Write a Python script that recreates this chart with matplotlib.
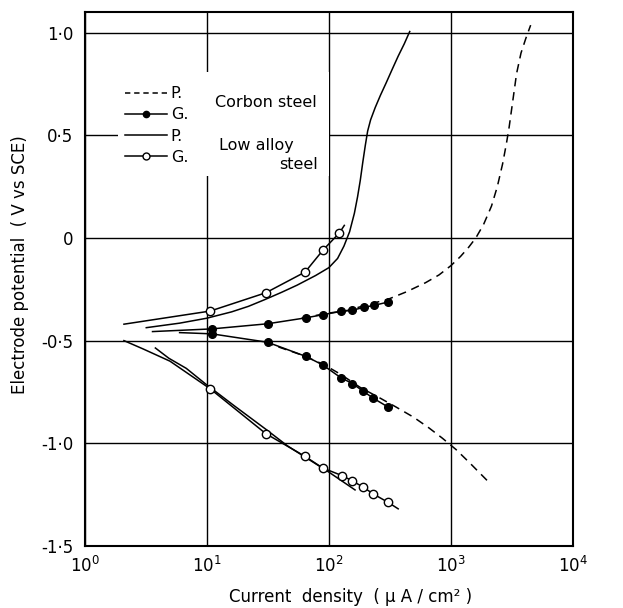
import matplotlib
matplotlib.use("Agg")
import matplotlib.pyplot as plt
from matplotlib.patches import Rectangle
from matplotlib.lines import Line2D

# ---------------- data (current density uA/cm2, potential V vs SCE) ----------------
# Carbon steel, potentiostatic (P) - dashed
cs_p_an_x = [60, 100, 146, 209, 302, 434, 620, 800, 1000, 1200, 1400, 1600, 1850, 2150,
             2400, 2650, 2850, 3000, 3200, 3450, 3750, 4100, 4500]
cs_p_an_y = [-0.39, -0.366, -0.352, -0.324, -0.300, -0.262, -0.218, -0.18, -0.135, -0.09,
             -0.045, 0.0, 0.065, 0.155, 0.25, 0.36, 0.46, 0.54, 0.66, 0.80, 0.90, 0.97, 1.036]
cs_p_ca_x = [30, 60, 90, 125, 181, 267, 357, 495, 661, 851, 1100, 1430, 2050]
cs_p_ca_y = [-0.508, -0.57, -0.615, -0.664, -0.728, -0.782, -0.824, -0.873, -0.925, -0.975, -1.03, -1.096, -1.19]

# Carbon steel, galvanostatic (G) - filled dots (first point = line start, no marker)
cs_g_an_x = [3.6, 11, 31.5, 65, 89, 125, 156, 194, 236, 307]
cs_g_an_y = [-0.456, -0.443, -0.418, -0.389, -0.374, -0.358, -0.352, -0.338, -0.328, -0.312]
cs_g_ca_x = [6.0, 11, 31.5, 65, 89, 125, 156, 190, 232, 307]
cs_g_ca_y = [-0.461, -0.467, -0.508, -0.577, -0.618, -0.680, -0.709, -0.745, -0.781, -0.824]

# Low alloy steel, potentiostatic (P) - solid
la_p_an_x = [3.2, 6, 10, 16, 22, 30, 41, 55, 78, 100, 118, 133, 148, 162, 172, 181, 190, 199,
             208, 220, 240, 265, 295, 330, 370, 415, 460]
la_p_an_y = [-0.437, -0.415, -0.391, -0.36, -0.333, -0.30, -0.265, -0.23, -0.183, -0.145, -0.10,
             -0.04, 0.03, 0.12, 0.2, 0.28, 0.37, 0.45, 0.52, 0.575, 0.635, 0.695, 0.755, 0.82,
             0.885, 0.945, 1.005]
la_p_ca_x = [3.8, 4.9, 6.8, 9.7, 16.7, 30.4, 46, 62, 100, 164]
la_p_ca_y = [-0.536, -0.586, -0.635, -0.709, -0.816, -0.931, -1.013, -1.062, -1.14, -1.227]

# Low alloy steel, galvanostatic (G) - open circles (line ends carry no marker)
la_g_an_x = [2.1, 10.7, 30.5, 64, 90, 122, 134]
la_g_an_y = [-0.42, -0.356, -0.267, -0.166, -0.058, 0.024, 0.061]
la_g_ca_x = [2.1, 3.0, 5.0, 10.7, 30.5, 64, 89, 128, 156, 192, 232, 307, 370]
la_g_ca_y = [-0.50, -0.54, -0.60, -0.735, -0.953, -1.064, -1.12, -1.157, -1.183, -1.214, -1.247, -1.288, -1.319]

x_ticks = [1, 10, 100, 1000, 10000]
x_tick_labels = [r"$\mathregular{10^{0}}$", r"$\mathregular{10^{1}}$", r"$\mathregular{10^{2}}$",
                 r"$\mathregular{10^{3}}$", r"$\mathregular{10^{4}}$"]
y_ticks = [1.0, 0.5, 0.0, -0.5, -1.0, -1.5]
y_tick_labels = ["1\u00b70", "0\u00b75", "0", "-0\u00b75", "-1\u00b70", "-1\u00b75"]

# ---------------- figure ----------------
fig = plt.figure(figsize=(6.23, 6.08), dpi=100)
ax = fig.add_axes([84.6 / 623, 1 - 546 / 608, 488.4 / 623, 534 / 608])
ax.set_xscale("log")
ax.set_xlim(1, 10000)
ax.set_ylim(-1.5, 1.10)

ax.set_xticks(x_ticks)
ax.set_xticklabels(x_tick_labels, fontsize=12)
ax.minorticks_off()
ax.set_yticks(y_ticks)
ax.set_yticklabels(y_tick_labels, fontsize=12)
ax.tick_params(axis="both", length=0)
ax.tick_params(axis="x", pad=7)
ax.tick_params(axis="y", pad=8)

ax.grid(True, color="black", linewidth=1.0)
ax.set_axisbelow(True)
for s in ax.spines.values():
    s.set_linewidth(1.5)

# white area behind the legend / annotation block
ax.add_patch(Rectangle((10 ** 0.27, 0.30), 100 - 10 ** 0.27, 0.51,
                       facecolor="white", edgecolor="none", zorder=1))

lw = 1.1
ms = 5.5
dash = (0, (5.5, 3.8))
# Carbon steel P (dashed)
ax.plot(cs_p_an_x, cs_p_an_y, color="black", lw=lw, ls=dash, zorder=3)
ax.plot(cs_p_ca_x, cs_p_ca_y, color="black", lw=lw, ls=dash, zorder=3)
# Carbon steel G (filled dots)
ax.plot(cs_g_an_x, cs_g_an_y, color="black", lw=lw, marker="o", ms=ms,
        mfc="black", mec="black", markevery=list(range(1, len(cs_g_an_x))), zorder=3)
ax.plot(cs_g_ca_x, cs_g_ca_y, color="black", lw=lw, marker="o", ms=ms,
        mfc="black", mec="black", markevery=list(range(1, len(cs_g_ca_x))), zorder=3)
# Low alloy P (solid)
ax.plot(la_p_an_x, la_p_an_y, color="black", lw=lw, zorder=3)
ax.plot(la_p_ca_x, la_p_ca_y, color="black", lw=lw, zorder=3)
# Low alloy G (open circles)
ax.plot(la_g_an_x, la_g_an_y, color="black", lw=lw, marker="o", ms=ms + 0.5,
        mfc="white", mec="black", mew=1.0,
        markevery=list(range(1, len(la_g_an_x) - 1)), zorder=3)
ax.plot(la_g_ca_x, la_g_ca_y, color="black", lw=lw, marker="o", ms=ms + 0.5,
        mfc="white", mec="black", mew=1.0,
        markevery=list(range(3, len(la_g_ca_x) - 1)), zorder=3)

# legend
hp_cs = Line2D([], [], color="black", lw=lw, ls=(0, (3.5, 2.5)))
hg_cs = Line2D([], [], color="black", lw=lw, marker="o", ms=4.5, mfc="black", mec="black")
hp_la = Line2D([], [], color="black", lw=lw)
hg_la = Line2D([], [], color="black", lw=lw, marker="o", ms=5, mfc="white", mec="black")
ax.legend([hp_cs, hg_cs, hp_la, hg_la], ["P.", "G.", "P.", "G."],
          loc="upper left", bbox_to_anchor=(0.083, 0.861), frameon=False,
          fontsize=11.5, handlelength=2.6, handletextpad=0.25,
          labelspacing=0.39, borderpad=0, borderaxespad=0, numpoints=1)

ax.text(11.8, 0.657, "Corbon steel", fontsize=11.5, ha="left", va="center", zorder=4)
ax.text(12.5, 0.452, "Low alloy", fontsize=11.5, ha="left", va="center", zorder=4)
ax.text(39, 0.359, "steel", fontsize=11.5, ha="left", va="center", zorder=4)

ax.set_xlabel("Current  density  ( \u03bc A / cm\u00b2 )", fontsize=12)
ax.xaxis.label.set_va("center")
ax.xaxis.set_label_coords(0.545, -0.0955)
ax.set_ylabel("Electrode potential  ( V vs SCE)", fontsize=12)
ax.yaxis.label.set_va("center")
ax.yaxis.set_label_coords(-0.132, 0.527)

fig.savefig("out.png", dpi=100)
